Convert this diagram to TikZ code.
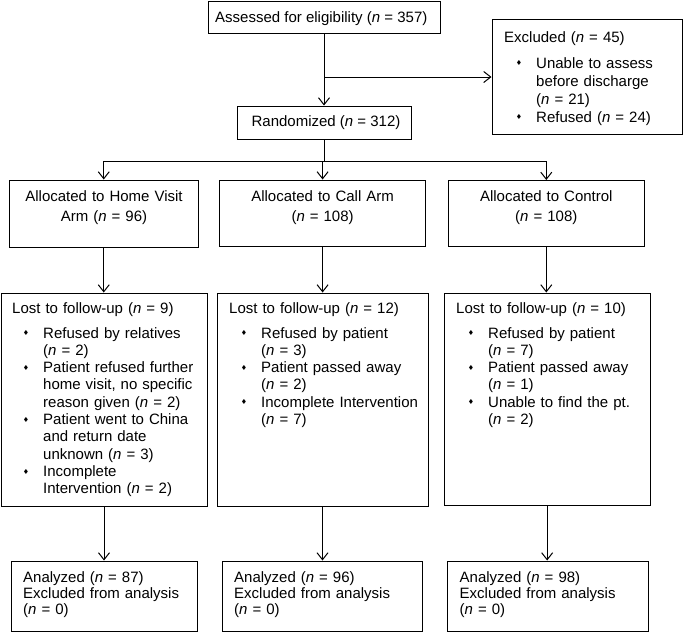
\documentclass[tikz,border=0pt]{standalone}
\usepackage{fontspec}
\setmainfont{Liberation Sans}
\newfontfamily\symf{DejaVu Sans}
\usetikzlibrary{arrows.meta,fit}
\newcommand{\bul}{\raisebox{2.4pt}{\symf\fontsize{7}{7}\selectfont ♦}}
\newenvironment{blist}[2]{\begin{list}{\bul}{\setlength\leftmargin{#1}\setlength\labelsep{#2}\setlength\labelwidth{\dimexpr#1-#2\relax}\setlength\itemsep{0pt}\setlength\parsep{0pt}\setlength\topsep{0pt}\setlength\partopsep{0pt}\setlength\itemindent{0pt}\setlength\listparindent{0pt}}}{\end{list}}
\begin{document}
\begin{tikzpicture}[x=1pt,y=-1pt,
  box/.style={draw, inner sep=0pt, line width=1pt},
  arr/.style={-{Straight Barb[length=7pt,width=11pt]}, line width=1pt},
  plain/.style={line width=1pt},
  txt/.style={inner sep=0pt, font=\fontsize{15}{17.3}\selectfont}]
\useasboundingbox (0,0) rectangle (683,633);

% boxes
\node[box, fit={(208,1) (440,33)}] (assess) {};
\node[box, fit={(492,19) (682,134)}] (excl) {};
\node[box, fit={(237,106) (411,139)}] (rand) {};
\node[box, fit={(9,180) (198.5,247)}] (al1) {};
\node[box, fit={(219.5,180) (425.7,246.5)}] (al2) {};
\node[box, fit={(448.3,180.5) (644.3,246.7)}] (al3) {};
\node[box, fit={(1,293) (207,506)}] (lost1) {};
\node[box, fit={(217,293) (428,506)}] (lost2) {};
\node[box, fit={(444,293) (650.3,505.7)}] (lost3) {};
\node[box, fit={(11,561) (197.3,631)}] (an1) {};
\node[box, fit={(222.3,561) (422.7,631)}] (an2) {};
\node[box, fit={(447.3,561) (648.3,631)}] (an3) {};

% texts
\node[txt, anchor=base west] (assesst) at (215,22) {Assessed for eligibility (\textit{n} = 357)};
\node[txt, anchor=base west, text width=175pt, font=\fontsize{15}{18}\selectfont] (exclt) at (504,42) {Excluded (\textit{n} = 45)\par\vspace{8pt}
\begin{blist}{32pt}{14pt}
\item Unable to assess\\ before discharge\\ (\textit{n} = 21)
\item Refused (\textit{n} = 24)
\end{blist}};
\node[txt, anchor=base] (randt) at (326,126) {Randomized (\textit{n} = 312)};

\node[txt, anchor=base, text width=185pt, align=center, font=\fontsize{15}{20}\selectfont] (al1t) at (104,201) {Allocated to Home Visit\\Arm (\textit{n} = 96)};
\node[txt, anchor=base, text width=195pt, align=center, font=\fontsize{15}{20}\selectfont] (al2t) at (322.6,201) {Allocated to Call Arm\\(\textit{n} = 108)};
\node[txt, anchor=base, text width=185pt, align=center, font=\fontsize{15}{20}\selectfont] (al3t) at (546.3,201) {Allocated to Control\\(\textit{n} = 108)};

\node[txt, anchor=base west, text width=193pt] (lost1t) at (12,313) {Lost to follow-up (\textit{n} = 9)\par\vspace{7.7pt}
\begin{blist}{31pt}{14pt}
\item Refused by relatives\\ (\textit{n} = 2)
\item Patient refused further\\ home visit, no specific\\ reason given (\textit{n} = 2)
\item Patient went to China\\ and return date\\ unknown (\textit{n} = 3)
\item Incomplete\\ Intervention (\textit{n} = 2)
\end{blist}};
\node[txt, anchor=base west, text width=196pt] (lost2t) at (229,313) {Lost to follow-up (\textit{n} = 12)\par\vspace{7.7pt}
\begin{blist}{32pt}{14pt}
\item Refused by patient\\ (\textit{n} = 3)
\item Patient passed away\\ (\textit{n} = 2)
\item Incomplete Intervention\\ (\textit{n} = 7)
\end{blist}};
\node[txt, anchor=base west, text width=192pt] (lost3t) at (456,313) {Lost to follow-up (\textit{n} = 10)\par\vspace{7.7pt}
\begin{blist}{32pt}{14pt}
\item Refused by patient\\ (\textit{n} = 7)
\item Patient passed away\\ (\textit{n} = 1)
\item Unable to find the pt.\\ (\textit{n} = 2)
\end{blist}};

\node[txt, anchor=base west, text width=172pt, font=\fontsize{15}{16}\selectfont] (an1t) at (23,582) {Analyzed (\textit{n} = 87)\\Excluded from analysis\\(\textit{n} = 0)};
\node[txt, anchor=base west, text width=185pt, font=\fontsize{15}{16}\selectfont] (an2t) at (234,582) {Analyzed (\textit{n} = 96)\\Excluded from analysis\\(\textit{n} = 0)};
\node[txt, anchor=base west, text width=185pt, font=\fontsize{15}{16}\selectfont] (an3t) at (459.5,582) {Analyzed (\textit{n} = 98)\\Excluded from analysis\\(\textit{n} = 0)};

% connectors
\coordinate (b1) at (324,77);
\coordinate (sp) at (324,161);
\draw[arr] (assess) -- (rand);
\draw[arr] (b1) -- (b1 -| excl.west);
\draw[plain] (rand.south) -- (rand.south |- sp);
\draw[arr] (sp) -| (al1.north);
\draw[arr] (sp) -| (al3.north);
\draw[arr] (sp -| al2.north) -- (al2.north);
\draw[arr] (al1.south) -- (al1.south |- lost1.north);
\draw[arr] (al2.south) -- (al2.south |- lost2.north);
\draw[arr] (al3.south) -- (al3.south |- lost3.north);
\draw[arr] (lost1.south) -- (lost1.south |- an1.north);
\draw[arr] (lost2.south) -- (lost2.south |- an2.north);
\draw[arr] (lost3.south) -- (lost3.south |- an3.north);
\end{tikzpicture}
\end{document}
